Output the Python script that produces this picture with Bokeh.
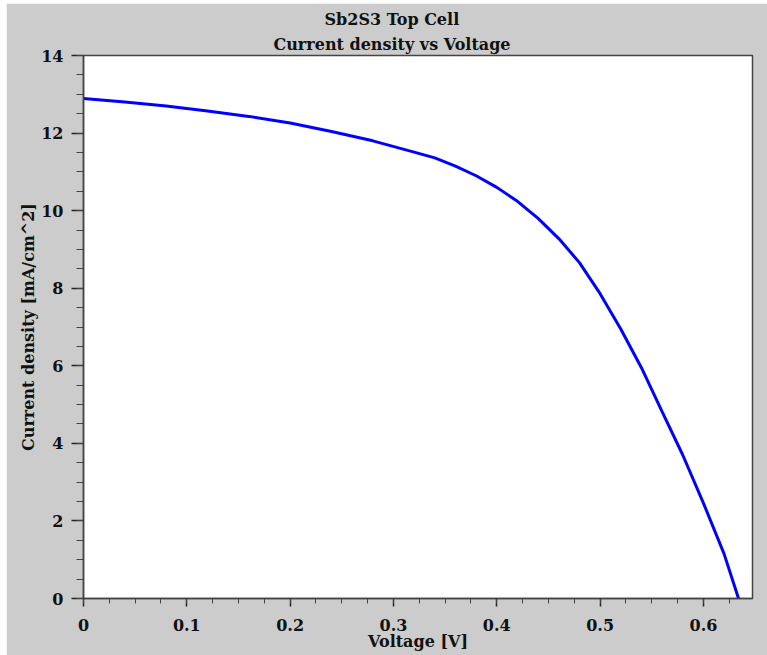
from bokeh.plotting import figure
from bokeh.models import Title, SingleIntervalTicker, CustomJSTickFormatter, Range1d
from bokeh.embed import file_html
from bokeh.resources import INLINE

# ---- data ----
voltage = [0.00, 0.04, 0.08, 0.12, 0.16, 0.20, 0.24, 0.28, 0.32, 0.34, 0.36,
           0.38, 0.40, 0.42, 0.44, 0.46, 0.48, 0.50, 0.52, 0.54, 0.56, 0.58,
           0.60, 0.62, 0.634]
current_density = [12.89, 12.80, 12.70, 12.57, 12.43, 12.26, 12.04, 11.80,
                   11.51, 11.36, 11.15, 10.90, 10.60, 10.24, 9.80, 9.28, 8.66,
                   7.86, 6.95, 5.95, 4.82, 3.70, 2.46, 1.15, 0.0]
title_lines = ["Sb2S3 Top Cell", "Current density vs Voltage"]
x_label = "Voltage [V]"
y_label = "Current density [mA/cm^2]"

FONT = "DejaVu Serif"
GREY = "#cccccc"
FS = "16px"

p = figure(width=761, height=652, output_backend="svg", toolbar_location=None,
           x_range=Range1d(0, 0.6475), y_range=Range1d(0, 14),
           min_border_left=77, min_border_right=15, min_border_bottom=57,
           min_border_top=52)
p.margin = (3, 0, 0, 6)
p.title = None

p.background_fill_color = "white"
p.border_fill_color = GREY
p.outline_line_color = "#444444"
p.outline_line_width = 1.5
p.grid.visible = False

# two-line title (inner line added first, outer line last)
p.add_layout(Title(text=title_lines[1], align="left", offset=190,
                   text_font=FONT, text_font_size=FS, text_font_style="bold",
                   text_color="#111111", standoff=4), "above")
p.add_layout(Title(text=title_lines[0], align="left", offset=241,
                   text_font=FONT, text_font_size=FS, text_font_style="bold",
                   text_color="#111111", standoff=4), "above")

p.line(voltage, current_density, line_color="#0000ff", line_width=3)

p.xaxis.ticker = SingleIntervalTicker(interval=0.1, num_minor_ticks=4)
p.yaxis.ticker = SingleIntervalTicker(interval=2, num_minor_ticks=4)
p.xaxis.formatter = CustomJSTickFormatter(code="return String(Math.round(tick*10)/10);")

for ax in (p.xaxis[0], p.yaxis[0]):
    ax.axis_line_color = "#444444"
    ax.axis_line_width = 1.5
    ax.major_tick_line_color = "#222222"
    ax.minor_tick_line_color = "#444444"
    ax.major_tick_line_width = 1.5
    ax.major_tick_in = 0
    ax.minor_tick_in = 0
    ax.major_label_text_font = FONT
    ax.major_label_text_font_size = FS
    ax.major_label_text_font_style = "bold"
    ax.major_label_text_color = "#111111"
    ax.axis_label_text_font = FONT
    ax.axis_label_text_font_size = FS
    ax.axis_label_text_font_style = "bold"
    ax.axis_label_text_color = "#111111"

p.xaxis.axis_label = x_label
p.yaxis.axis_label = y_label
p.xaxis.major_tick_out = 8
p.xaxis.minor_tick_out = 5
p.yaxis.major_tick_out = 12
p.yaxis.minor_tick_out = 7
p.xaxis.major_label_standoff = 12
p.yaxis.major_label_standoff = 8
p.xaxis.axis_label_standoff = -2
p.yaxis.axis_label_standoff = 0

open("out.html", "w").write(file_html(p, INLINE))
